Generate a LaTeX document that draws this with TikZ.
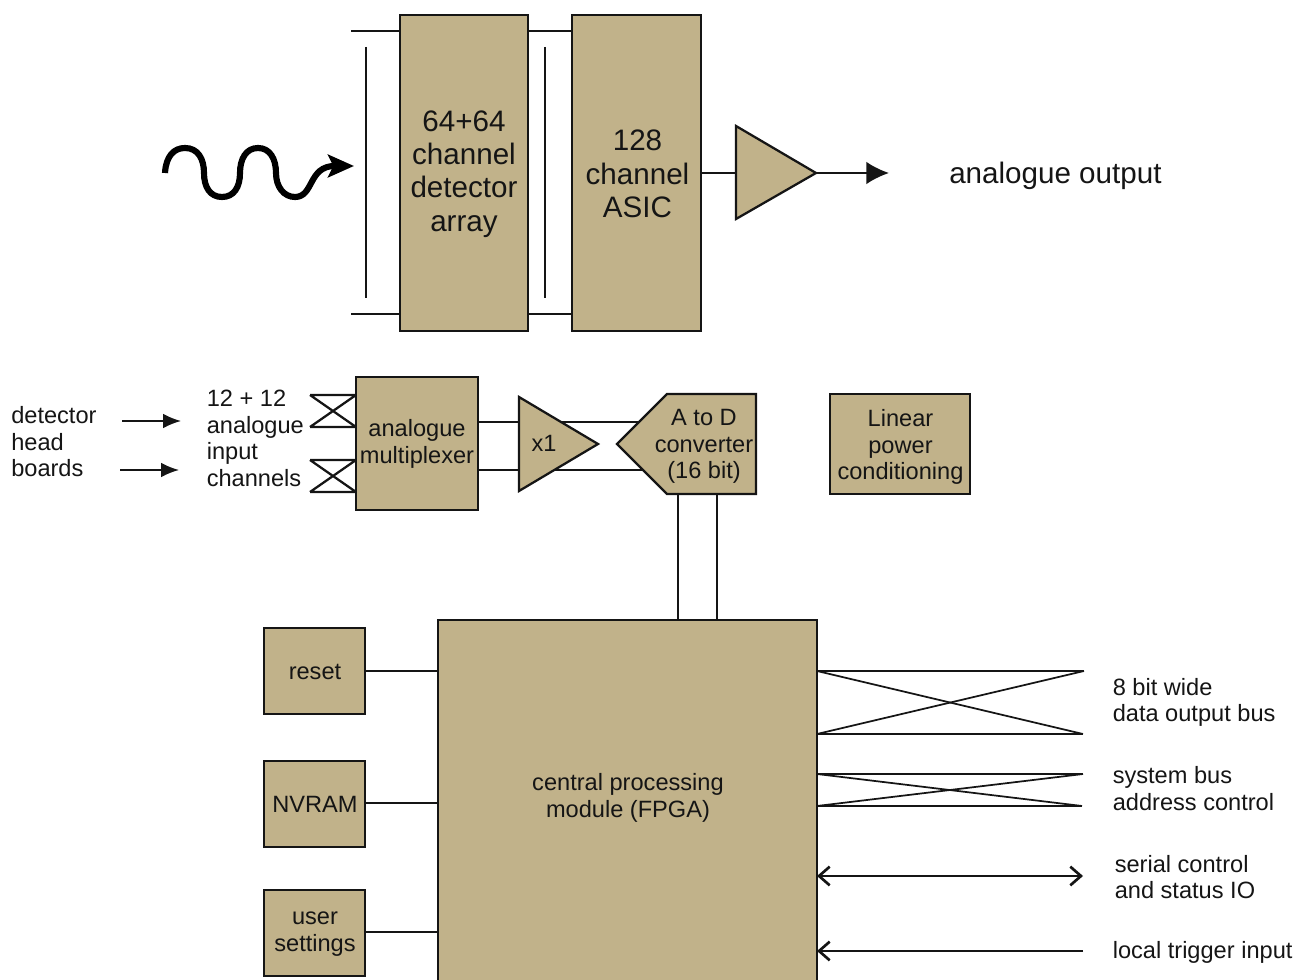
\documentclass[tikz,border=0pt]{standalone}
\usepackage{fontspec}
\setmainfont{Liberation Sans}
\usetikzlibrary{arrows.meta,backgrounds}
\definecolor{boxtan}{HTML}{C1B28A}
\definecolor{ink}{HTML}{151515}
\tikzset{
  x=0.75pt,y=-0.75pt,
  blockbox/.style={draw=ink,fill=boxtan,line width=1.7pt,inner sep=0pt,outer sep=0pt,minimum width=#1},
  bigtext/.style={font=\fontsize{22.2pt}{25.1pt}\selectfont,align=center,inner sep=0pt,text=ink},
  smalltext/.style={font=\fontsize{17.7pt}{19.9pt}\selectfont,align=center,inner sep=0pt,text=ink},
  lefttext/.style={smalltext,align=left,anchor=west},
  wire/.style={draw=ink,line width=1.5pt},
  bus/.style={draw=ink,line width=1.3pt},
  crossbus/.style={draw=ink,line width=1.7pt},
  solidarrow/.style={wire,line width=1.2pt,-{Latex[length=13.5pt,width=11pt]}},
  bigarrow/.style={wire,-{Latex[length=17pt,width=17pt]}},
  openarrow/.style={wire,-{Straight Barb[length=8pt,width=14pt,line width=2pt]}},
  openboth/.style={wire,{Straight Barb[length=8pt,width=14pt,line width=2pt]}-{Straight Barb[length=8pt,width=14pt,line width=2pt]}},
}
\begin{document}
\begin{tikzpicture}
\useasboundingbox (0,0) rectangle (1297,980);
\clip (0,0) rectangle (1297,980);

% --- upper chain: blocks
\node[blockbox=96pt,minimum height=237pt,anchor=north west] (det) at (400,15) {};
\node[bigtext] (dettext) at (464,174) {64+64\\channel\\detector\\array};
\node[blockbox=96.75pt,minimum height=237pt,anchor=north west] (asic) at (572,15) {};
\node[bigtext] (asictext) at (637.5,174) {128\\channel\\ASIC};
\coordinate (ampin) at (736,173);
\coordinate (ampout) at (816,173);
\filldraw[draw=ink,fill=boxtan,line width=1.7pt,line join=miter] (736,126) -- (ampout) -- (736,219) -- cycle;
\node[bigtext,anchor=west] (outtext) at (949,176) {analogue output};
\coordinate (outend) at (889,173);

% --- middle chain: blocks
\node[blockbox=91.5pt,minimum height=99.75pt,anchor=north west] (mux) at (356,377) {};
\node[smalltext] (muxtext) at (417,444) {analogue\\multiplexer};
\coordinate (buftopl) at (519,422);
\coordinate (bufbotl) at (519,470);
\coordinate (adctopr) at (650,422);
\coordinate (adcbotr) at (650,470);
\filldraw[draw=ink,fill=boxtan,line width=1.7pt,line join=miter] (519,397) -- (598,444) -- (519,491) -- cycle;
\node[smalltext] (buftext) at (544,443) {x1};
\filldraw[draw=ink,fill=boxtan,line width=1.7pt,line join=miter] (667,394) -- (756,394) -- (756,494) -- (667,494) -- (617,444) -- cycle;
\node[smalltext] (adctext) at (704,446.5) {A to D\\converter\\(16 bit)};
\node[blockbox=105pt,minimum height=75pt,anchor=north west] (lin) at (830,394) {};
\node[smalltext] (lintext) at (900.5,447) {Linear\\power\\conditioning};

\node[lefttext] (dettxt) at (11,442) {detector\\head\\boards};
\node[lefttext] (chantxt) at (206.5,438.5) {12 + 12\\analogue\\input\\channels};

% --- lower section: blocks
\node[blockbox=284.25pt,minimum height=285pt,anchor=north west] (cpu) at (438,620) {};
\node[smalltext] (cputext) at (628,798) {central processing\\module (FPGA)};
\node[blockbox=75.75pt,minimum height=64.5pt,anchor=north west] (reset) at (264,628) {};
\node[smalltext] (resettext) at (315,672) {reset};
\node[blockbox=75.75pt,minimum height=64.5pt,anchor=north west] (nvram) at (264,761) {};
\node[smalltext] (nvramtext) at (315,804) {NVRAM};
\node[blockbox=75.75pt,minimum height=64.5pt,anchor=north west] (user) at (264,890) {};
\node[smalltext] (usertext) at (315,934) {user\\settings};

\node[lefttext] (t8) at (1112.5,702.5) {8 bit wide\\data output bus};
\node[lefttext] (tsys) at (1112.5,788.5) {system bus\\address control};
\node[lefttext] (tser) at (1114.5,877) {serial control\\and status IO};
\node[lefttext] (ttrig) at (1112.5,952) {local trigger input};

% --- free ends of connectors
\coordinate (a1) at (351,31); \coordinate (a2) at (351,314);
\coordinate (v1a) at (366,47); \coordinate (v1b) at (366,298);
\coordinate (v2a) at (545,47); \coordinate (v2b) at (545,298);
\coordinate (arr1a) at (122,421); \coordinate (arr1b) at (181,421);
\coordinate (arr2a) at (120,470); \coordinate (arr2b) at (179,470);
\coordinate (xa1) at (310,395); \coordinate (xa2) at (310,427);
\coordinate (xb1) at (310,460); \coordinate (xb2) at (310,492);
\coordinate (b1e) at (1084,671); \coordinate (b2e) at (1083,734);
\coordinate (b3e) at (1083,774); \coordinate (b4e) at (1082,806);
\coordinate (b5e) at (1083,876); \coordinate (b6e) at (1083,951);
\coordinate (wavestart) at (165,173);
\coordinate (waveend) at (354,166);

\begin{pgfonlayer}{background}
  % upper chain
  \draw[wire] (a1) -- (a1 -| det.west);
  \draw[wire] (a2) -- (a2 -| det.west);
  \draw[wire] (a1 -| det.east) -- (a1 -| asic.west);
  \draw[wire] (a2 -| det.east) -- (a2 -| asic.west);
  \draw[wire] (v1a) -- (v1b);
  \draw[wire] (v2a) -- (v2b);
  \draw[wire] (ampin -| asic.east) -- (ampin);
  % mux to ADC
  \draw[wire] (buftopl -| mux.east) -- (adctopr);
  \draw[wire] (bufbotl -| mux.east) -- (adcbotr);
  % input crossings
  \draw[crossbus] (xa1) -- (xa1 -| mux.west) (xa2) -- (xa2 -| mux.west) (xa1) -- (xa2 -| mux.west) (xa2) -- (xa1 -| mux.west);
  \draw[crossbus] (xb1) -- (xb1 -| mux.west) (xb2) -- (xb2 -| mux.west) (xb1) -- (xb2 -| mux.west) (xb2) -- (xb1 -| mux.west);
  % ADC to CPU
  \draw[wire] (678,494) -- (678,620);
  \draw[wire] (717,494) -- (717,620);
  % side blocks to CPU
  \draw[wire] (reset.east |- 0,671) -- (cpu.west |- 0,671);
  \draw[wire] (nvram.east |- 0,803) -- (cpu.west |- 0,803);
  \draw[wire] (user.east |- 0,932) -- (cpu.west |- 0,932);
  % output buses
  \draw[bus] (b1e -| cpu.east) -- (b1e);
  \draw[bus] (b2e -| cpu.east) -- (b2e);
  \draw[bus] (b1e -| cpu.east) -- (b2e);
  \draw[bus] (b2e -| cpu.east) -- (b1e);
  \draw[bus] (b3e -| cpu.east) -- (b3e);
  \draw[bus] (b4e -| cpu.east) -- (b4e);
  \draw[bus] (b3e -| cpu.east) -- (b4e);
  \draw[bus] (b4e -| cpu.east) -- (b3e);
\end{pgfonlayer}

% arrows
\draw[bigarrow] (ampout) -- (outend);
\draw[solidarrow] (arr1a) -- (arr1b);
\draw[solidarrow] (arr2a) -- (arr2b);
\draw[openboth] (b5e -| cpu.east) -- (b5e);
\draw[openarrow] (b6e) -- (b6e -| cpu.east);

% wavy radiation arrow
\draw[black,line width=4.6pt,-{Stealth[length=19.5pt,width=17pt,inset=4pt]}]
  (wavestart) .. controls (166,156) and (174,148) .. (185,148)
  .. controls (198,148) and (204,159) .. (204,173)
  .. controls (204,187) and (210,197) .. (222,197)
  .. controls (234,197) and (240,187) .. (240,173)
  .. controls (240,159) and (246,148) .. (258,148)
  .. controls (270,148) and (276,159) .. (276,173)
  .. controls (276,187) and (284,197) .. (295,197)
  .. controls (314,197) and (308,166) .. (waveend);
\end{tikzpicture}
\end{document}
